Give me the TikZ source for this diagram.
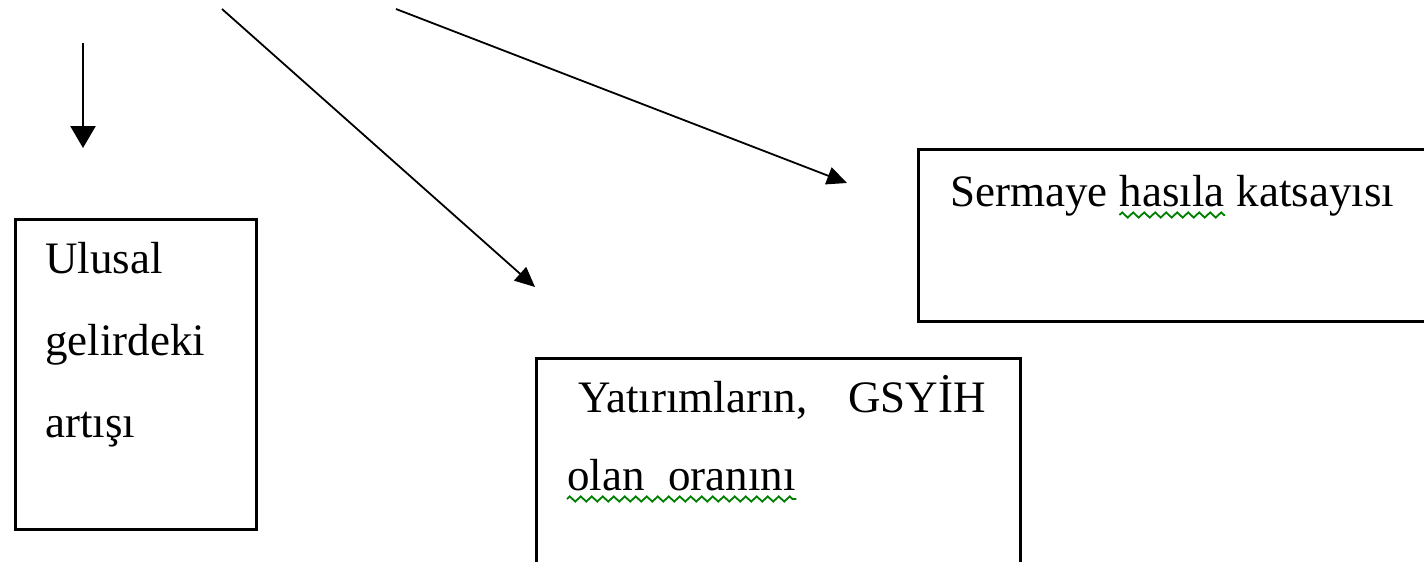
\documentclass[tikz,border=0pt]{standalone}
\usepackage{fontspec}
\setmainfont{Liberation Serif}
\usetikzlibrary{arrows.meta, decorations.pathmorphing}
\usetikzlibrary{positioning}
\definecolor{spellgreen}{RGB}{0,128,0}

\begin{document}
\begin{tikzpicture}[x=0.5pt,y=-0.5pt,
box/.style={rectangle,draw=black,line width=1.5pt,anchor=north west,inner sep=0pt,outer sep=0pt},
word/.style={anchor=base west,inner sep=0pt,font=\fontsize{22.5}{39}\selectfont},
link/.style={-{Triangle[length=10pt,width=9pt]},line width=0.9pt},
squiggle/.style={draw=spellgreen,line width=0.9pt,decorate,decoration={zigzag,amplitude=1.3pt,segment length=5.5pt}}]
\useasboundingbox (0,0) rectangle (1424,562);
\clip (0,0) rectangle (1424,562);

% boxes
\node[box,minimum width=120.5pt,minimum height=155pt] (ulusal) at (15.5,219.5) {};
\node[box,minimum width=242pt,minimum height=130pt] (yatirim) at (536.5,358.5) {};
\node[box,minimum width=270pt,minimum height=86pt] (sermaye) at (918.5,149.5) {};

% texts
\node[word] (u1) at (45,273) {Ulusal};
\node[word] (u2) at (45,355) {gelirdeki};
\node[word] (u3) at (45,437) {artışı};
\node[word] (y1) at (578,412) {Yatırımların,};
\node[word] (y2) at (848,412) {GSYİH};
\node[word] (y3) at (567,490) {olan};
\node[word] (y4) at (668,490) {oranını};
\node[word] (s1) at (950,206) {Sermaye};
\node[word] (s2) at ([xshift=5.6pt]s1.base east) {hasıla};
\node[word] (s3) at ([xshift=5.6pt]s2.base east) {katsayısı};

% spell marks
\draw[squiggle] ([yshift=-4.5pt]y3.base west) -- ([yshift=-4.5pt]y4.base east);
\draw[squiggle] ([yshift=-4.5pt]s2.base west) -- ([yshift=-4.5pt]s2.base east);

% arrows
\coordinate (a1s) at (83,43);
\coordinate (a1e) at (83,148);
\coordinate (a2s) at (222,9);
\coordinate (a2e) at (535,287);
\coordinate (a3s) at (396,9);
\coordinate (a3e) at (847,183);
\draw[link,line width=1.3pt,-{Triangle[length=11pt,width=12.5pt]}] (a1s) -- (a1e);
\draw[link] (a2s) -- (a2e);
\draw[link] (a3s) -- (a3e);

\end{tikzpicture}
\end{document}
